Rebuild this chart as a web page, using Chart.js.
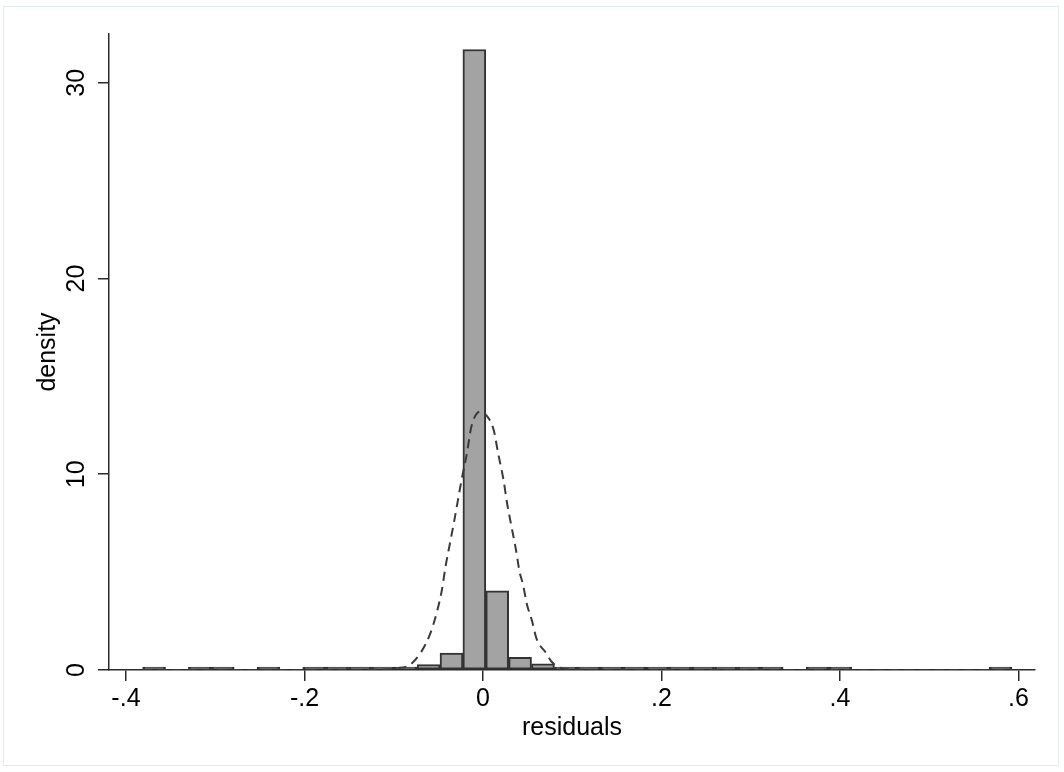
<!DOCTYPE html>
<html><head><meta charset="utf-8">
<script src="https://cdn.jsdelivr.net/npm/chart.js@4/dist/chart.umd.min.js"></script>
<style>
html,body{margin:0;padding:0;background:#fff;}
#wrap{position:relative;width:1064px;height:772px;}
#frame{position:absolute;left:3px;top:6px;width:1056px;height:760px;border:1px solid #e3ebee;box-sizing:border-box;pointer-events:none;}
canvas{position:absolute;left:0;top:0;}
</style></head><body>
<div id="wrap"><canvas id="c" width="1064" height="772"></canvas><div id="frame"></div></div>
<script>
// Histogram bins
const binStart = -0.3813;
const binWidth = 0.02563;
const density = [0.04,0,0.04,0.04,0,0.04,0,0.04,0.04,0.04,
                 0.06,0.12,0.28,0.86,31.7,4.05,0.65,0.32,0.12,0.06,
                 0.04,0.04,0.04,0.04,0.04,0.04,0.04,0.04,0,0.04,
                 0.04,0,0,0,0,0,0,0.08];
// Overlaid normal density curve
const curveX = [-0.3813,-0.15,-0.11,-0.097,-0.082,-0.069,-0.059,-0.052,-0.046,-0.042,-0.037,-0.032,-0.028,-0.024,-0.018,-0.013,-0.003,
                0.003,0.012,0.017,0.023,0.027,0.032,0.037,0.041,0.045,0.049,0.055,0.060,0.071,0.077,0.086,0.10,0.15,0.5927];
const curveY = [0,0,0.02,0.09,0.26,0.94,1.87,2.90,4.09,5.27,6.47,7.67,8.69,9.71,11.07,12.43,13.2,
                13.05,12.26,11.07,9.71,8.52,7.32,6.13,5.02,4.34,3.40,2.50,1.60,0.85,0.42,0.12,0.03,0,0];
const xTicks = [-0.4,-0.2,0,0.2,0.4,0.6];
const xTickLabels = ['-.4','-.2','0','.2','.4','.6'];
const yTicks = [0,10,20,30];
const yTickLabels = ['0','10','20','30'];
const xTitle = 'residuals';
const yTitle = 'density';

const bars = [];
density.forEach((d,i)=>{ if (d>0) bars.push({x: binStart + binWidth*(i+0.5), y: d}); });
const curve = curveX.map((x,i)=>({x:x, y:curveY[i]}));

const FONT = {family:"'Liberation Sans', Arial, sans-serif", size:25};
const AX = '#2b2b2b';
const EDGE = '#333333';
const FILL = '#a3a3a3';

new Chart(document.getElementById('c').getContext('2d'), {
  type:'bar',
  data:{datasets:[
    {type:'line', data:curve, borderColor:'#3a3a3a', borderWidth:2, borderDash:[9,6], pointRadius:0, fill:false,
     cubicInterpolationMode:'monotone', order:0},
    {type:'bar', data:bars, backgroundColor:c=>(c.raw && c.raw.y<0.15 ? EDGE : FILL), borderColor:EDGE, borderWidth:2, borderSkipped:false,
     barPercentage:1, categoryPercentage:1, minBarLength:3, order:1}
  ]},
  options:{
    responsive:false, animation:false, devicePixelRatio:1,
    layout:{padding:{left:0,right:29,top:34,bottom:0}},
    plugins:{legend:{display:false}, tooltip:{enabled:false}},
    scales:{
      x:{type:'linear', min:-0.419, max:0.6185, offset:false,
         afterBuildTicks:s=>{ s.ticks = xTicks.map(v=>({value:v})); },
         ticks:{callback:(v,i)=>xTickLabels[i], font:FONT, color:'#000', padding:3, maxRotation:0, autoSkip:false},
         grid:{offset:false, drawOnChartArea:false, drawTicks:true, tickLength:11, color:AX, lineWidth:1.5},
         border:{display:true, color:AX, width:1.5},
         title:{display:true, text:xTitle, font:FONT, color:'#000', padding:{top:0,bottom:29}},
         afterFit:s=>{ s.height = 102; }
      },
      y:{type:'linear', min:0, max:32.49,
         afterBuildTicks:s=>{ s.ticks = yTicks.map(v=>({value:v})); },
         ticks:{callback:(v,i)=>yTickLabels[i], font:FONT, color:'#000', minRotation:90, maxRotation:90, crossAlign:'center', padding:7, autoSkip:false},
         grid:{offset:false, drawOnChartArea:false, drawTicks:true, tickLength:11, color:AX, lineWidth:1.5},
         border:{display:true, color:AX, width:1.5},
         title:{display:true, text:yTitle, font:FONT, color:'#000', padding:{top:33,bottom:0}},
         afterFit:s=>{ s.width = 109; }
      }
    }
  }
});
</script>
</body></html>
